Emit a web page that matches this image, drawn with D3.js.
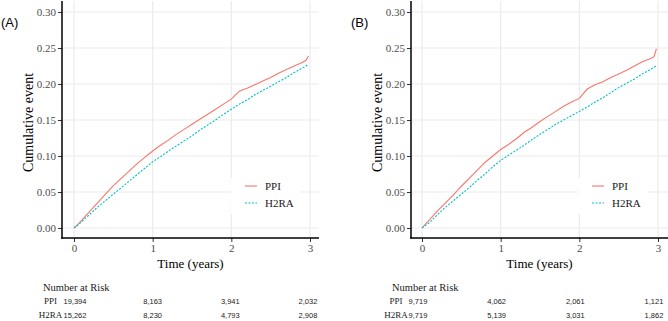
<!DOCTYPE html>
<html>
<head>
<meta charset="utf-8">
<script src="https://cdn.jsdelivr.net/npm/d3@7/dist/d3.min.js"></script>
<style>
body { margin: 0; background: #fff; }
</style>
</head>
<body>
<div id="chart"></div>
<script>
var W = 668, H = 321;

var times = [0, 0.05, 0.1, 0.2, 0.3, 0.4, 0.5, 0.6, 0.7, 0.8, 0.9, 1.0, 1.1, 1.2, 1.3, 1.4, 1.5,
             1.6, 1.7, 1.8, 1.9, 2.0, 2.1, 2.2, 2.3, 2.4, 2.5, 2.6, 2.7, 2.8, 2.9, 2.95, 2.98];

// panel A
var ppiA  = [0, 0.005, 0.011, 0.023, 0.035, 0.047, 0.059, 0.069, 0.079, 0.089, 0.098, 0.107, 0.115, 0.122, 0.130, 0.137, 0.144,
             0.151, 0.158, 0.165, 0.172, 0.179, 0.190, 0.194, 0.199, 0.204, 0.209, 0.215, 0.220, 0.225, 0.230, 0.233, 0.239];
var h2raA = [0, 0.004, 0.009, 0.019, 0.029, 0.038, 0.047, 0.056, 0.065, 0.074, 0.083, 0.092, 0.099, 0.107, 0.114, 0.121, 0.128,
             0.136, 0.143, 0.150, 0.158, 0.165, 0.172, 0.178, 0.185, 0.191, 0.197, 0.203, 0.209, 0.216, 0.222, 0.225, 0.228];
// panel B
var ppiB  = [0, 0.006, 0.012, 0.024, 0.035, 0.046, 0.058, 0.069, 0.080, 0.091, 0.100, 0.109, 0.116, 0.124, 0.133, 0.140, 0.148,
             0.155, 0.162, 0.169, 0.175, 0.180, 0.193, 0.199, 0.203, 0.209, 0.214, 0.219, 0.225, 0.231, 0.235, 0.238, 0.249];
var h2raB = [0, 0.004, 0.008, 0.019, 0.029, 0.038, 0.047, 0.056, 0.066, 0.075, 0.085, 0.094, 0.101, 0.108, 0.115, 0.123, 0.130,
             0.137, 0.144, 0.150, 0.156, 0.162, 0.168, 0.175, 0.181, 0.188, 0.195, 0.201, 0.207, 0.214, 0.220, 0.223, 0.226];

var groups = ["PPI", "H2RA"];
var xTicks = [0, 1, 2, 3];
var yTicks = [0, 0.05, 0.10, 0.15, 0.20, 0.25, 0.30];

// number at risk
var riskTimes = [0, 1, 2, 3];
var riskPpiA  = [19394, 8163, 3941, 2032];
var riskH2raA = [15262, 8230, 4793, 2908];
var riskPpiB  = [9719, 4062, 2061, 1121];
var riskH2raB = [9719, 5139, 3031, 1862];

var color = d3.scaleOrdinal().domain(groups).range(["#F8766D", "#00BFC4"]);
var dash = { "PPI": null, "H2RA": "2,1.5" };
var serif = "'Times New Roman', 'Liberation Serif', 'DejaVu Serif', serif";
var sans = "Arial, 'Liberation Sans', sans-serif";
var fmtY = d3.format(".2f");
var fmtN = d3.format(",");

var panels = [
    { tag: "(A)", tagX: 1, series: [ppiA, h2raA], risk: [riskPpiA, riskH2raA],
      left: 62, right: 319, xr: [74, 310], ylabX: 33, riskLabX: 50.6, narX: 43, riskR: [75, 308], legX: 245 },
    { tag: "(B)", tagX: 351, series: [ppiB, h2raB], risk: [riskPpiB, riskH2raB],
      left: 411, right: 668, xr: [422, 658], ylabX: 382, riskLabX: 396, narX: 392, riskR: [418, 654], legX: 592 }
];

var panelTop = 1, panelBottom = 238;

var svg = d3.select("#chart").append("svg")
    .attr("width", W)
    .attr("height", H)
    .style("font-family", serif);

var y = d3.scaleLinear().domain([0, 0.30]).range([228, 12]);

panels.forEach(function(p) {
    var x = d3.scaleLinear().domain([0, 3]).range(p.xr);
    var g = svg.append("g");

    // grid
    g.append("g").selectAll("line")
        .data(yTicks).enter().append("line")
        .attr("x1", p.left).attr("x2", p.right)
        .attr("y1", function(d) { return y(d); })
        .attr("y2", function(d) { return y(d); })
        .style("stroke", "#ebebeb").style("stroke-width", 1.2);
    g.append("g").selectAll("line")
        .data(xTicks).enter().append("line")
        .attr("x1", function(d) { return x(d); })
        .attr("x2", function(d) { return x(d); })
        .attr("y1", panelTop).attr("y2", panelBottom)
        .style("stroke", "#ebebeb").style("stroke-width", 1.2);

    // curves
    var line = d3.line()
        .x(function(d, i) { return x(times[i]); })
        .y(function(d) { return y(d); });

    groups.forEach(function(name, k) {
        g.append("path")
            .datum(p.series[k])
            .attr("d", line)
            .style("fill", "none")
            .style("stroke", color(name))
            .style("stroke-width", 1.1)
            .style("stroke-dasharray", dash[name]);
    });

    // legend
    var leg = g.append("g");
    leg.append("rect")
        .attr("x", p.legX - 14).attr("y", 178)
        .attr("width", 70).attr("height", 36)
        .style("fill", "#fff");
    groups.forEach(function(name, k) {
        var ly = 186 + k * 17;
        leg.append("line")
            .attr("x1", p.legX).attr("x2", p.legX + 12)
            .attr("y1", ly).attr("y2", ly)
            .style("stroke", color(name))
            .style("stroke-width", 1.1)
            .style("stroke-dasharray", dash[name]);
        leg.append("text")
            .attr("x", p.legX + 20).attr("y", ly + 4)
            .style("font-family", serif)
            .style("font-size", "11px")
            .style("fill", "#1a1a1a")
            .text(name);
    });

    // axes
    var ay = g.append("g")
        .attr("transform", "translate(" + p.left + ",0)")
        .call(d3.axisLeft(y).tickValues(yTicks).tickFormat(fmtY).tickSize(4).tickPadding(2));
    var ax = g.append("g")
        .attr("transform", "translate(0," + panelBottom + ")")
        .call(d3.axisBottom(x).tickValues(xTicks).tickFormat(d3.format("d")).tickSize(4).tickPadding(2));
    [ay, ax].forEach(function(a) {
        a.select(".domain").remove();
        a.selectAll(".tick line").style("stroke", "#333");
        a.selectAll(".tick text")
            .style("font-family", serif)
            .style("font-size", "11px")
            .style("fill", "#4d4d4d");
    });

    g.append("line")
        .attr("x1", p.left).attr("x2", p.left)
        .attr("y1", panelTop).attr("y2", panelBottom + 0.75)
        .style("stroke", "#000").style("stroke-width", 1.5);
    g.append("line")
        .attr("x1", p.left - 0.75).attr("x2", p.right)
        .attr("y1", panelBottom).attr("y2", panelBottom)
        .style("stroke", "#000").style("stroke-width", 1.5);

    // titles
    g.append("text")
        .attr("transform", "translate(" + p.ylabX + "," + ((panelTop + panelBottom) / 2 + 3) + ") rotate(-90)")
        .attr("text-anchor", "middle")
        .style("font-family", serif)
        .style("font-size", "14px")
        .text("Cumulative event");
    g.append("text")
        .attr("x", (p.left + p.right) / 2).attr("y", 268)
        .attr("text-anchor", "middle")
        .style("font-family", serif)
        .style("font-size", "13px")
        .text("Time (years)");
    g.append("text")
        .attr("x", p.tagX).attr("y", 27)
        .style("font-family", sans)
        .style("font-size", "13px")
        .text(p.tag);

    // risk table
    var rx = d3.scaleLinear().domain([0, 3]).range(p.riskR);
    g.append("text")
        .attr("x", p.narX).attr("y", 291)
        .style("font-family", serif)
        .style("font-size", "10.5px")
        .style("fill", "#1a1a1a")
        .text("Number at Risk");
    groups.forEach(function(name, k) {
        var ry = 304 + k * 14;
        g.append("text")
            .attr("x", p.riskLabX).attr("y", ry)
            .attr("text-anchor", "middle")
            .style("font-family", serif)
            .style("font-size", "9px")
            .style("fill", "#1a1a1a")
            .text(name);
        g.append("g").selectAll("text")
            .data(p.risk[k]).enter().append("text")
            .attr("x", function(d, i) { return rx(riskTimes[i]); })
            .attr("y", ry)
            .attr("text-anchor", "middle")
            .style("font-family", sans)
            .style("font-size", "7.5px")
            .style("fill", "#1a1a1a")
            .text(function(d) { return fmtN(d); });
    });
});
</script>
</body>
</html>
